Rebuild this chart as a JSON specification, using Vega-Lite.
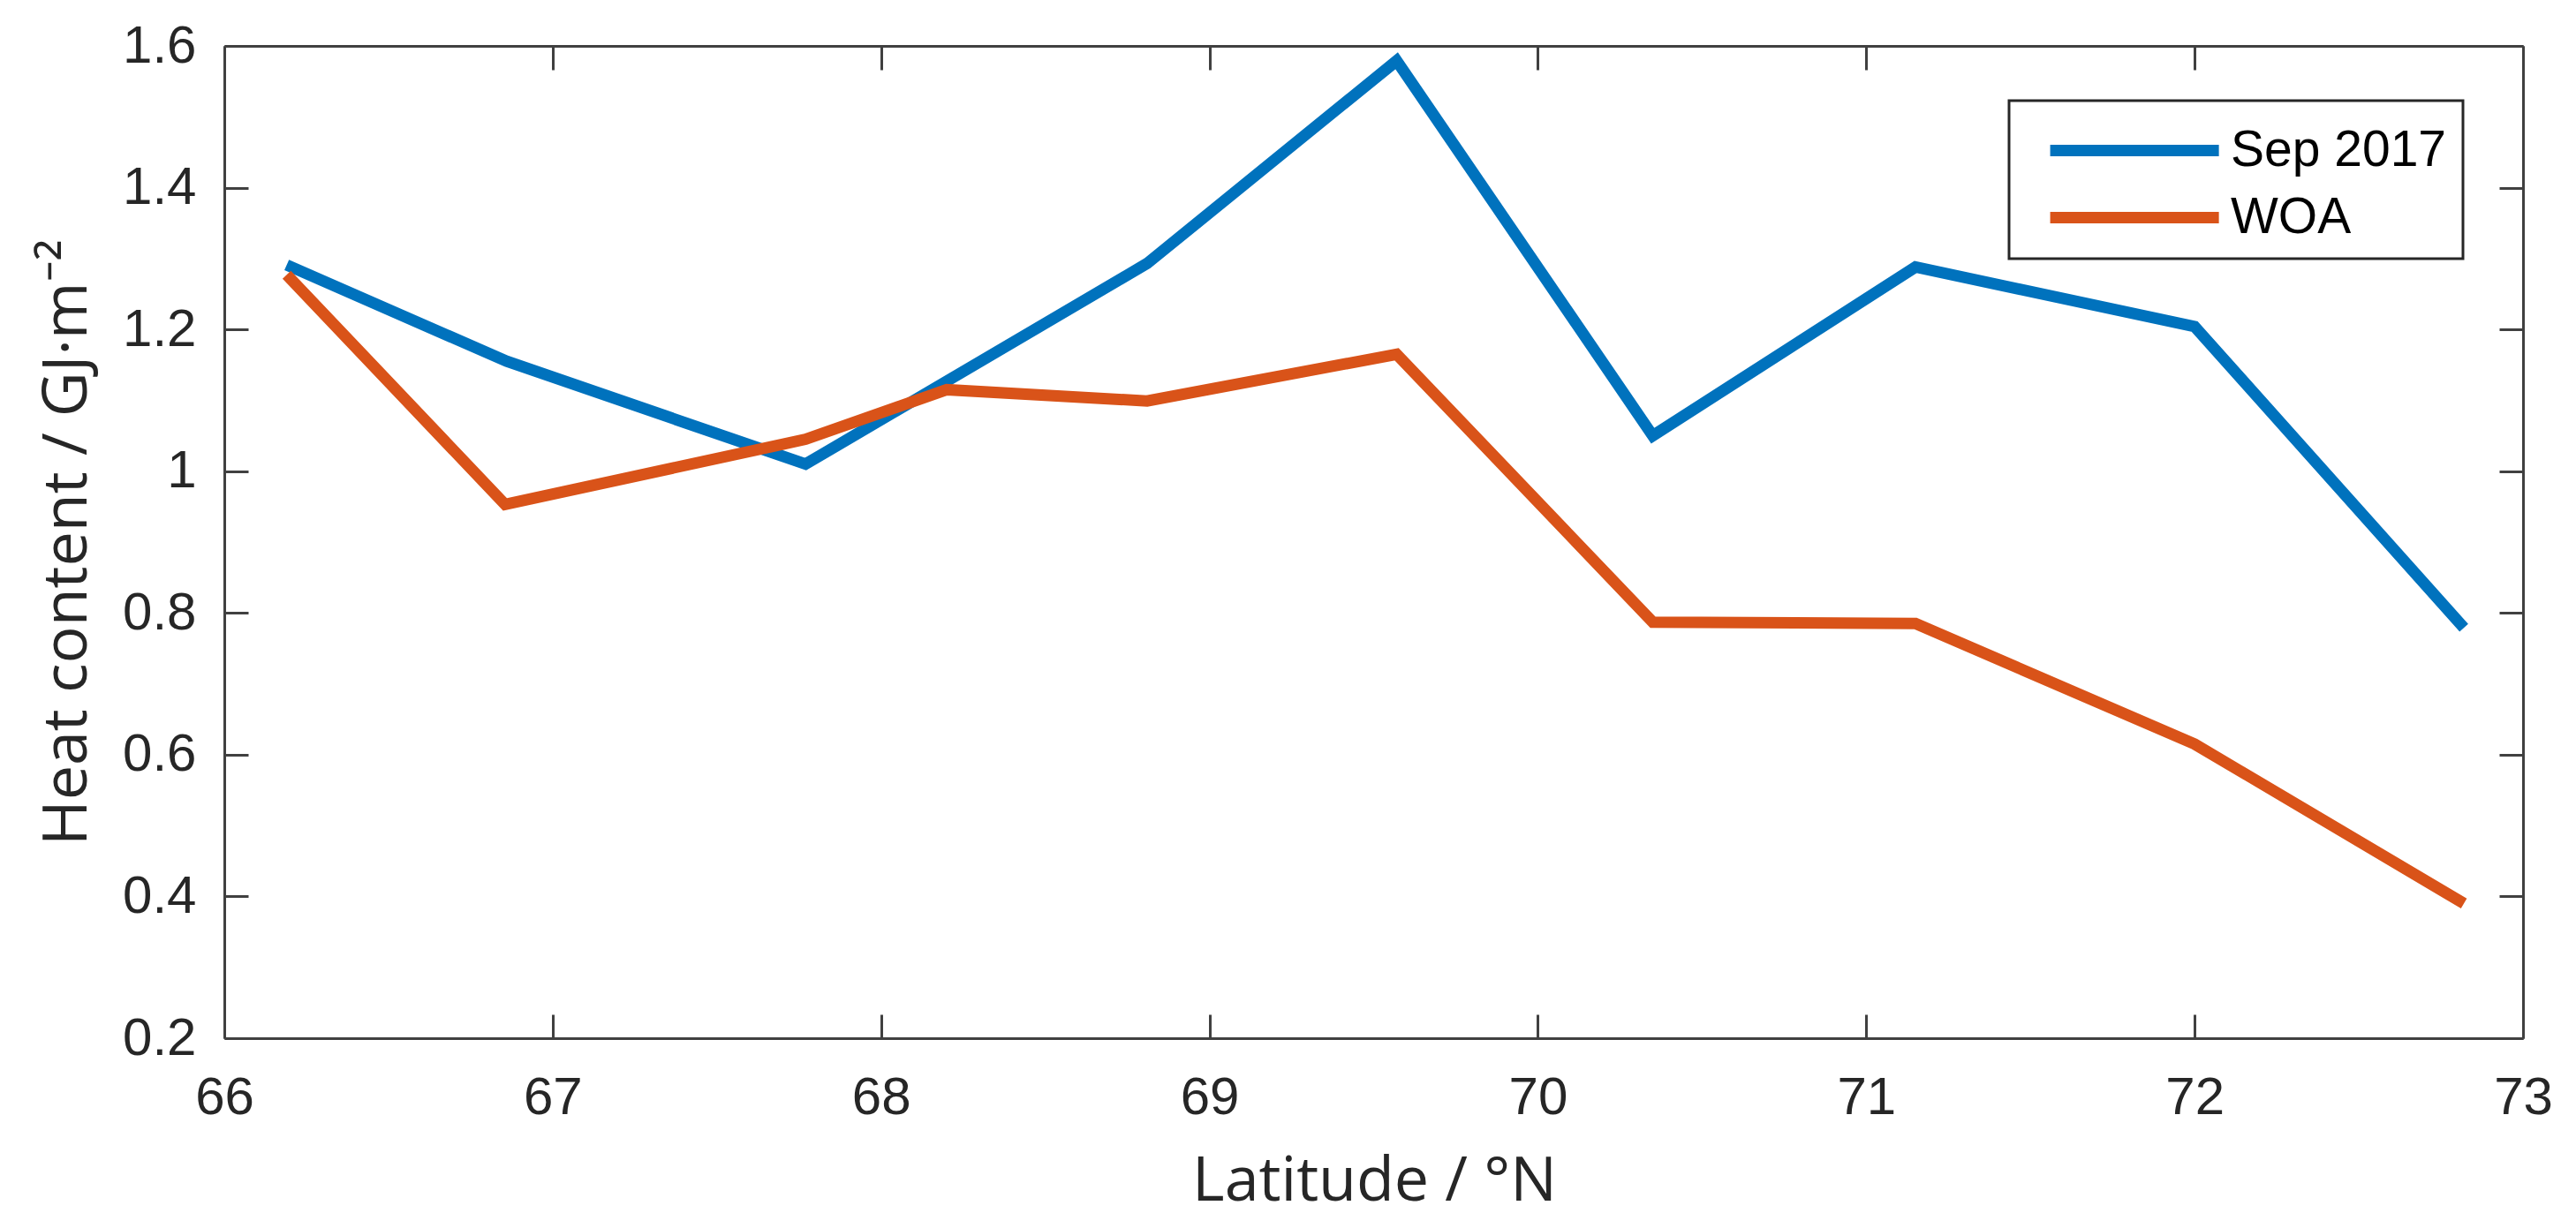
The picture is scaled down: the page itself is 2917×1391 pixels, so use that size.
{
  "$schema": "https://vega.github.io/schema/vega-lite/v6.json",
  "width": 2603,
  "height": 1124,
  "autosize": "none",
  "padding": {"left": 254, "top": 52, "right": 60, "bottom": 215},
  "background": "white",
  "data": {
    "values": [
      {"lat": 66.19, "heat": 1.291, "series": "Sep 2017"},
      {"lat": 66.86, "heat": 1.155, "series": "Sep 2017"},
      {"lat": 67.77, "heat": 1.010, "series": "Sep 2017"},
      {"lat": 68.81, "heat": 1.293, "series": "Sep 2017"},
      {"lat": 69.57, "heat": 1.579, "series": "Sep 2017"},
      {"lat": 70.35, "heat": 1.050, "series": "Sep 2017"},
      {"lat": 71.15, "heat": 1.288, "series": "Sep 2017"},
      {"lat": 72.00, "heat": 1.204, "series": "Sep 2017"},
      {"lat": 72.82, "heat": 0.779, "series": "Sep 2017"},
      {"lat": 66.19, "heat": 1.277, "series": "WOA"},
      {"lat": 66.855, "heat": 0.953, "series": "WOA"},
      {"lat": 67.77, "heat": 1.045, "series": "WOA"},
      {"lat": 68.20, "heat": 1.115, "series": "WOA"},
      {"lat": 68.81, "heat": 1.099, "series": "WOA"},
      {"lat": 69.57, "heat": 1.165, "series": "WOA"},
      {"lat": 70.35, "heat": 0.787, "series": "WOA"},
      {"lat": 71.15, "heat": 0.785, "series": "WOA"},
      {"lat": 72.00, "heat": 0.615, "series": "WOA"},
      {"lat": 72.82, "heat": 0.390, "series": "WOA"}
    ]
  },
  "layer": [
    {
      "mark": {"type": "line", "strokeWidth": 13, "strokeCap": "butt"},
      "encoding": {
        "x": {
          "field": "lat",
          "type": "quantitative",
          "scale": {"domain": [66, 73], "nice": false, "zero": false},
          "axis": {
            "title": "Latitude / °N",
            "values": [66, 67, 68, 69, 70, 71, 72, 73],
            "format": "d",
            "labelPadding": 65,
            "titleY": 183,
            "titleX": 1302,
            "titleBaseline": "alphabetic"
          }
        },
        "y": {
          "field": "heat",
          "type": "quantitative",
          "scale": {"domain": [0.2, 1.6], "nice": false, "zero": false},
          "axis": {
            "title": "Heat content / GJ·m⁻²",
            "values": [0.2, 0.4, 0.6, 0.8, 1, 1.2, 1.4, 1.6],
            "format": "~g",
            "labelPadding": 59,
            "titleX": -157,
            "titleY": 562,
            "titleAngle": -90,
            "titleBaseline": "alphabetic"
          }
        },
        "color": {
          "field": "series",
          "type": "nominal",
          "scale": {"domain": ["Sep 2017", "WOA"], "range": ["#0072BD", "#D95319"]},
          "legend": {
            "title": null,
            "orient": "none",
            "legendX": 2021,
            "legendY": 62,
            "symbolType": "M-0.31,0H5.66",
            "symbolSize": 4096,
            "symbolStrokeWidth": 13,
            "labelOffset": 156,
            "padding": 18,
            "rowPadding": 9,
            "labelLimit": 0,
            "strokeColor": "#262626",
            "fillColor": "white"
          }
        }
      }
    },
    {
      "mark": {"type": "line", "opacity": 0},
      "encoding": {
        "x": {
          "field": "lat",
          "type": "quantitative",
          "axis": {"orient": "top", "labels": false, "title": null, "values": [66, 67, 68, 69, 70, 71, 72, 73]}
        },
        "y": {
          "field": "heat",
          "type": "quantitative",
          "axis": {"orient": "right", "labels": false, "title": null, "values": [0.2, 0.4, 0.6, 0.8, 1, 1.2, 1.4, 1.6]}
        },
        "detail": {"field": "series"}
      }
    }
  ],
  "resolve": {"axis": {"x": "independent", "y": "independent"}},
  "config": {
    "view": {"stroke": null},
    "axis": {
      "grid": false,
      "domainColor": "#404040",
      "domainWidth": 3,
      "tickColor": "#404040",
      "tickWidth": 3,
      "tickSize": -27,
      "labelFont": "Liberation Sans",
      "labelFontSize": 60,
      "labelColor": "#262626",
      "labelFlush": false,
      "labelOverlap": false,
      "titleFont": "Open Sans",
      "titleFontSize": 70,
      "titleFontWeight": "normal",
      "titleColor": "#262626"
    },
    "legend": {
      "labelFont": "Liberation Sans",
      "labelFontSize": 57,
      "labelColor": "#000000",
      "strokeWidth": 3
    }
  }
}
